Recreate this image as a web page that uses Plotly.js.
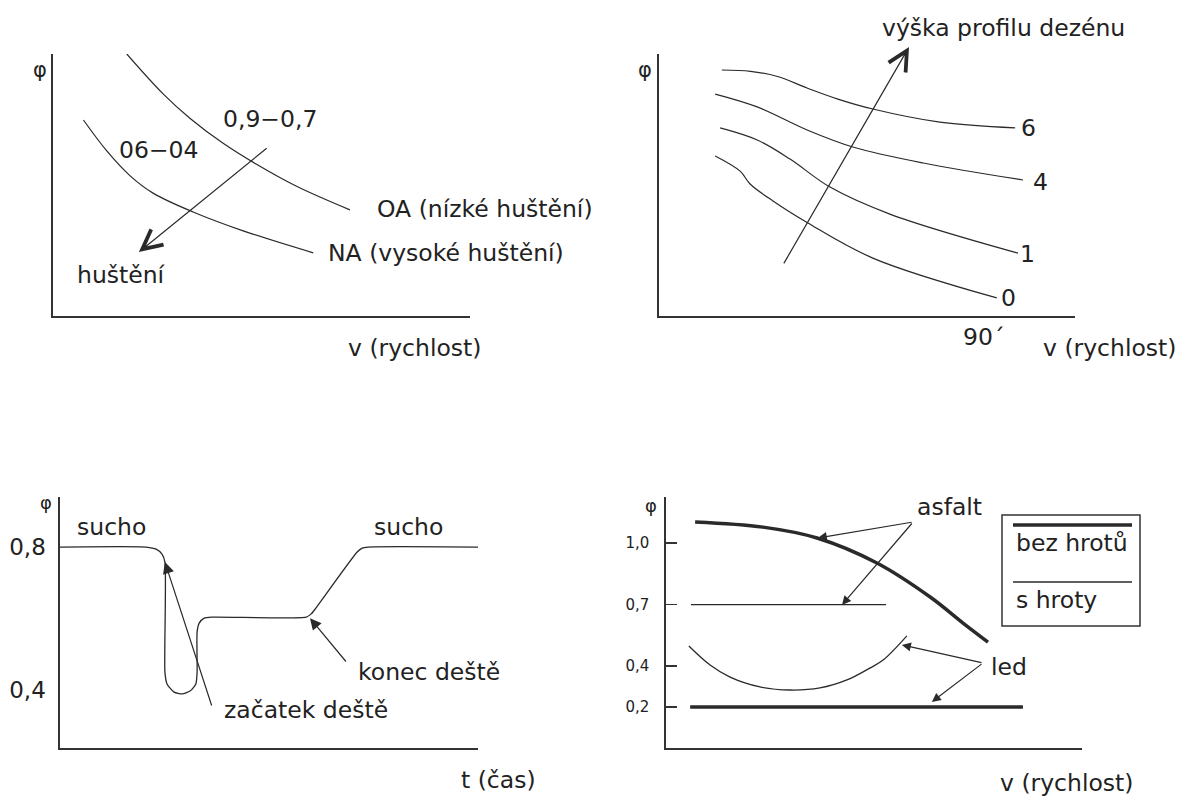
<!DOCTYPE html>
<html><head><meta charset="utf-8">
<script src="https://cdn.plot.ly/plotly-3.0.1.min.js"></script>
<style>html,body{margin:0;padding:0;background:#fff}</style>
</head><body><div id="chart" style="width:1182px;height:798px"></div>
<script>
// ---------- Panel 1 (top-left): phi vs v, tyre inflation ----------
const p1_oa_x = [17.7, 26.4, 32.9, 40.8, 48.8, 58.4, 71.2];
const p1_oa_y = [100, 84.8, 75.4, 65.9, 57.9, 49.5, 40.5];
const p1_na_x = [7.3, 12.9, 18.5, 24.0, 33.6, 45.6, 62.4];
const p1_na_y = [74.8, 63.0, 53.5, 46.9, 39.7, 32.5, 24.1];
const p1_labels = ["0,9−0,7", "06−04", "huštění", "OA (nízké huštění)", "NA (vysoké huštění)"];

// ---------- Panel 2 (top-right): tread depth ----------
const p2_names = ["6", "4", "1", "0"];
const p2_x = [
  [15.1, 22.0, 28.5, 35.6, 43.0, 51.4, 67.5, 85.6],
  [13.5, 23.6, 35.6, 46.6, 63.5, 87.5],
  [14.7, 23.6, 31.5, 41.1, 55.5, 86.3],
  [13.5, 19.5, 21.9, 27.4, 35.8, 51.4, 81.2]
];
const p2_y = [
  [93.9, 93.4, 91.4, 87.0, 82.8, 79.0, 74.0, 71.8],
  [84.7, 79.8, 71.0, 64.5, 58.4, 51.9],
  [71.8, 67.2, 59.9, 49.2, 38.9, 24.0],
  [61.1, 55.3, 50.4, 43.9, 35.5, 22.1, 6.9]
];

// ---------- Panel 3 (bottom-left): phi vs time, rain ----------
const p3_t = [0, 20.6, 23.0, 24.4, 25.1, 25.1, 25.6, 27.3, 29.2, 31.1, 32.5, 32.8, 32.8, 33.3, 34.5, 36.4, 58.9, 60.1, 61.2, 71.1, 72.3, 73.7, 100];
const p3_phi = [0.8, 0.8, 0.794, 0.78, 0.758, 0.45, 0.417, 0.394, 0.389, 0.397, 0.417, 0.45, 0.562, 0.587, 0.601, 0.604, 0.604, 0.613, 0.629, 0.786, 0.797, 0.8, 0.8];
const p3_ticks = [0.4, 0.8];
const p3_ticktext = ["0,4", "0,8"];

// ---------- Panel 4 (bottom-right): asphalt / ice, studs ----------
const p4_asf_bez_x = [7.0, 23.3, 36.3, 50.7, 63.5, 71.4, 77.4];
const p4_asf_bez_y = [1.103, 1.078, 1.025, 0.903, 0.737, 0.61, 0.517];
const p4_asf_s_x = [6.0, 52.9];
const p4_asf_s_y = [0.7, 0.7];
const p4_led_s_x = [5.5, 10.6, 15.4, 22.6, 29.8, 37.0, 43.5, 49.0, 52.2, 57.9];
const p4_led_s_y = [0.498, 0.405, 0.346, 0.298, 0.283, 0.293, 0.332, 0.390, 0.429, 0.547];
const p4_led_bez_x = [5.8, 85.8];
const p4_led_bez_y = [0.2, 0.2];
const p4_ticks = [0.2, 0.4, 0.7, 1.0];
const p4_ticktext = ["0,2", "0,4", "0,7", "1,0"];

// ---------- drawing ----------
const W = 1182, H = 798;
const FAM = "DejaVu Sans, sans-serif";
const INK = "#222";
const LINE = "#2a2a2a";
const FS = 23.5;
const px = x => x / W, py = y => 1 - y / H;

function line(x, y, xa, ya, w, shape, sm) {
  return {x, y, xaxis: xa, yaxis: ya, type: "scatter", mode: "lines",
    line: {color: LINE, width: w || 1.2, shape: shape || "spline", smoothing: sm || 1.0},
    hoverinfo: "skip", showlegend: false};
}
const traces = [
  line(p1_oa_x, p1_oa_y, "x", "y"),
  line(p1_na_x, p1_na_y, "x", "y"),
];
p2_names.forEach((n, i) => traces.push(line(p2_x[i], p2_y[i], "x2", "y2")));
traces.push(line(p3_t, p3_phi, "x3", "y3", 1.3, "spline", 0.6));
traces.push(line(p4_asf_bez_x, p4_asf_bez_y, "x4", "y4", 3.5));
traces.push(line(p4_asf_s_x, p4_asf_s_y, "x4", "y4", 1.3, "linear"));
traces.push(line(p4_led_s_x, p4_led_s_y, "x4", "y4", 1.3));
traces.push(line(p4_led_bez_x, p4_led_bez_y, "x4", "y4", 3.5, "linear"));

function T(text, x, y, anchor, size) {
  return {text, xref: "paper", yref: "paper", x: px(x), y: py(y), xanchor: anchor || "center",
    yanchor: "middle", showarrow: false, font: {family: FAM, size: size || FS, color: INK}};
}
function A(n, hx, hy, tx, ty, head, size) {
  const s = n === 1 ? "" : String(n);
  return {xref: "x" + s, yref: "y" + s, axref: "x" + s, ayref: "y" + s, x: hx, y: hy, ax: tx, ay: ty,
    text: "", showarrow: true, arrowhead: head, arrowsize: size, arrowwidth: 1.2,
    arrowcolor: LINE, standoff: 0, startstandoff: 0};
}

const annotations = [
  // panel 1
  T("φ", 40, 70, "center", 21),
  T(p1_labels[0], 270, 119),
  T(p1_labels[1], 159, 150),
  T(p1_labels[2], 121, 275),
  T(p1_labels[3], 375, 209, "left"),
  T(p1_labels[4], 326, 253, "left"),
  T("v (rychlost)", 346, 348, "left"),
  A(1, 20.6, 24.4, 51.6, 64.5, 5, 3.2),
  // panel 2
  T("φ", 645, 70, "center", 21),
  T("výška profilu dezénu", 880, 28, "left"),
  T(p2_names[0], 1028, 128),
  T(p2_names[1], 1040, 182),
  T(p2_names[2], 1027, 254),
  T(p2_names[3], 1008, 298),
  T("90´", 984, 337),
  T("v (rychlost)", 1041, 348, "left"),
  A(2, 60.1, 102.7, 29.8, 19.5, 5, 3.2),
  // panel 3
  T("φ", 46, 502, "center", 18),
  T("sucho", 111, 527),
  T("sucho", 408, 527),
  T("konec deště", 356, 672, "left"),
  T("začatek deště", 222, 710, "left"),
  T("t (čas)", 459, 780, "left"),
  A(3, 25.1, 0.758, 36.4, 0.3525, 2, 1.9),
  A(3, 59.8, 0.601, 68.7, 0.4756, 2, 1.9),
  // panel 4
  T("φ", 651, 505, "center", 18),
  T("asfalt", 915, 507, "left"),
  T("led", 989, 667, "left"),
  T("bez hrotů", 1014, 543, "left"),
  T("s hroty", 1014, 600, "left"),
  T("v (rychlost)", 998, 783, "left"),
  A(4, 36.5, 1.025, 59.4, 1.103, 2, 1.5),
  A(4, 42.3, 0.698, 59.4, 1.103, 2, 1.5),
  A(4, 56.7, 0.503, 76.2, 0.415, 2, 1.5),
  A(4, 63.9, 0.2245, 76.2, 0.415, 2, 1.5),
];

const shapes = [
  {type: "rect", xref: "paper", yref: "paper", x0: px(1002), x1: px(1140), y0: py(515), y1: py(626),
   line: {color: "#333", width: 1.5}},
  {type: "line", xref: "paper", yref: "paper", x0: px(1013), x1: px(1132), y0: py(525), y1: py(525),
   line: {color: LINE, width: 3.5}},
  {type: "line", xref: "paper", yref: "paper", x0: px(1013), x1: px(1132), y0: py(582), y1: py(582),
   line: {color: LINE, width: 1.3}},
];

const ax = {showgrid: false, zeroline: false, showline: true, linecolor: "#333", linewidth: 1.6,
  ticks: "", showticklabels: false, fixedrange: true};

const layout = {
  width: W, height: H, margin: {l: 0, r: 0, t: 0, b: 0},
  paper_bgcolor: "#fff", plot_bgcolor: "#fff", showlegend: false,
  xaxis:  Object.assign({}, ax, {domain: [px(53), px(470)], range: [0, 100], anchor: "y"}),
  yaxis:  Object.assign({}, ax, {domain: [py(316), py(54)], range: [0, 100], anchor: "x"}),
  xaxis2: Object.assign({}, ax, {domain: [px(659), px(1075)], range: [0, 100], anchor: "y2"}),
  yaxis2: Object.assign({}, ax, {domain: [py(316), py(54)], range: [0, 100], anchor: "x2"}),
  xaxis3: Object.assign({}, ax, {domain: [px(60), px(478)], range: [0, 100], anchor: "y3"}),
  yaxis3: Object.assign({}, ax, {domain: [py(748), py(497)], range: [0.2378, 0.94], anchor: "x3",
    showticklabels: true, tickvals: p3_ticks, ticktext: p3_ticktext, ticklabelstandoff: 8,
    tickfont: {family: FAM, size: 23, color: INK}}),
  xaxis4: Object.assign({}, ax, {domain: [px(666), px(1082)], range: [0, 100], anchor: "y4"}),
  yaxis4: Object.assign({}, ax, {domain: [py(748), py(497)], range: [0, 1.225], anchor: "x4",
    showticklabels: true, ticks: "inside", ticklen: 11, tickwidth: 1.5, tickcolor: "#333",
    tickvals: p4_ticks, ticktext: p4_ticktext, ticklabelstandoff: 12,
    tickfont: {family: FAM, size: 15, color: INK}}),
  annotations, shapes
};

Plotly.newPlot("chart", traces, layout, {displayModeBar: false, staticPlot: true});
</script></body></html>
